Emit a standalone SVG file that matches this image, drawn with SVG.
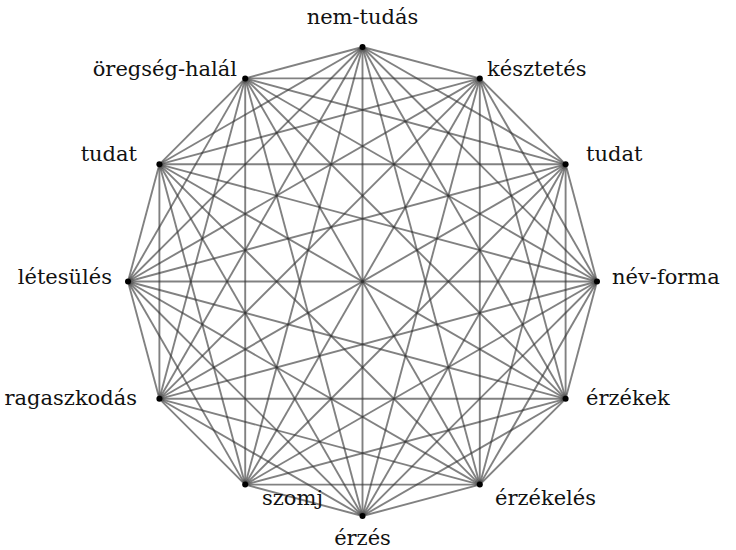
<svg xmlns="http://www.w3.org/2000/svg" width="736" height="550" viewBox="0 0 736 550">
<style>
.e line{stroke:#333;stroke-opacity:0.62;stroke-width:1.9;}
.v{fill:#000;}
.t{font-family:'DejaVu Serif','Liberation Serif',serif;font-size:21px;fill:#111;}
</style>
<rect width="736" height="550" fill="#fff"/>
<g id="connectors" class="e">
<line x1="362.5" y1="47" x2="479.8" y2="78.4"/>
<line x1="362.5" y1="47" x2="565.6" y2="164.3"/>
<line x1="362.5" y1="47" x2="597" y2="281.5"/>
<line x1="362.5" y1="47" x2="565.6" y2="398.8"/>
<line x1="362.5" y1="47" x2="479.8" y2="484.6"/>
<line x1="362.5" y1="47" x2="362.5" y2="516"/>
<line x1="362.5" y1="47" x2="245.2" y2="484.6"/>
<line x1="362.5" y1="47" x2="159.4" y2="398.8"/>
<line x1="362.5" y1="47" x2="128" y2="281.5"/>
<line x1="362.5" y1="47" x2="159.4" y2="164.3"/>
<line x1="362.5" y1="47" x2="245.2" y2="78.4"/>
<line x1="479.8" y1="78.4" x2="565.6" y2="164.3"/>
<line x1="479.8" y1="78.4" x2="597" y2="281.5"/>
<line x1="479.8" y1="78.4" x2="565.6" y2="398.8"/>
<line x1="479.8" y1="78.4" x2="479.8" y2="484.6"/>
<line x1="479.8" y1="78.4" x2="362.5" y2="516"/>
<line x1="479.8" y1="78.4" x2="245.2" y2="484.6"/>
<line x1="479.8" y1="78.4" x2="159.4" y2="398.8"/>
<line x1="479.8" y1="78.4" x2="128" y2="281.5"/>
<line x1="479.8" y1="78.4" x2="159.4" y2="164.3"/>
<line x1="479.8" y1="78.4" x2="245.2" y2="78.4"/>
<line x1="565.6" y1="164.3" x2="597" y2="281.5"/>
<line x1="565.6" y1="164.3" x2="565.6" y2="398.8"/>
<line x1="565.6" y1="164.3" x2="479.8" y2="484.6"/>
<line x1="565.6" y1="164.3" x2="362.5" y2="516"/>
<line x1="565.6" y1="164.3" x2="245.2" y2="484.6"/>
<line x1="565.6" y1="164.3" x2="159.4" y2="398.8"/>
<line x1="565.6" y1="164.3" x2="128" y2="281.5"/>
<line x1="565.6" y1="164.3" x2="159.4" y2="164.3"/>
<line x1="565.6" y1="164.3" x2="245.2" y2="78.4"/>
<line x1="597" y1="281.5" x2="565.6" y2="398.8"/>
<line x1="597" y1="281.5" x2="479.8" y2="484.6"/>
<line x1="597" y1="281.5" x2="362.5" y2="516"/>
<line x1="597" y1="281.5" x2="245.2" y2="484.6"/>
<line x1="597" y1="281.5" x2="159.4" y2="398.8"/>
<line x1="597" y1="281.5" x2="128" y2="281.5"/>
<line x1="597" y1="281.5" x2="159.4" y2="164.3"/>
<line x1="597" y1="281.5" x2="245.2" y2="78.4"/>
<line x1="565.6" y1="398.8" x2="479.8" y2="484.6"/>
<line x1="565.6" y1="398.8" x2="362.5" y2="516"/>
<line x1="565.6" y1="398.8" x2="245.2" y2="484.6"/>
<line x1="565.6" y1="398.8" x2="159.4" y2="398.8"/>
<line x1="565.6" y1="398.8" x2="128" y2="281.5"/>
<line x1="565.6" y1="398.8" x2="159.4" y2="164.3"/>
<line x1="565.6" y1="398.8" x2="245.2" y2="78.4"/>
<line x1="479.8" y1="484.6" x2="362.5" y2="516"/>
<line x1="479.8" y1="484.6" x2="245.2" y2="484.6"/>
<line x1="479.8" y1="484.6" x2="159.4" y2="398.8"/>
<line x1="479.8" y1="484.6" x2="128" y2="281.5"/>
<line x1="479.8" y1="484.6" x2="159.4" y2="164.3"/>
<line x1="479.8" y1="484.6" x2="245.2" y2="78.4"/>
<line x1="362.5" y1="516" x2="245.2" y2="484.6"/>
<line x1="362.5" y1="516" x2="159.4" y2="398.8"/>
<line x1="362.5" y1="516" x2="128" y2="281.5"/>
<line x1="362.5" y1="516" x2="159.4" y2="164.3"/>
<line x1="362.5" y1="516" x2="245.2" y2="78.4"/>
<line x1="245.2" y1="484.6" x2="159.4" y2="398.8"/>
<line x1="245.2" y1="484.6" x2="128" y2="281.5"/>
<line x1="245.2" y1="484.6" x2="159.4" y2="164.3"/>
<line x1="245.2" y1="484.6" x2="245.2" y2="78.4"/>
<line x1="159.4" y1="398.8" x2="128" y2="281.5"/>
<line x1="159.4" y1="398.8" x2="159.4" y2="164.3"/>
<line x1="159.4" y1="398.8" x2="245.2" y2="78.4"/>
<line x1="128" y1="281.5" x2="159.4" y2="164.3"/>
<line x1="128" y1="281.5" x2="245.2" y2="78.4"/>
<line x1="159.4" y1="164.3" x2="245.2" y2="78.4"/>
</g>
<g id="n0"><circle class="v" cx="362.5" cy="47" r="3"/><text class="t" x="362.5" y="24" text-anchor="middle">nem-tudás</text></g>
<g id="n1"><circle class="v" cx="479.8" cy="78.4" r="3"/><text class="t" x="487" y="76">késztetés</text></g>
<g id="n2"><circle class="v" cx="565.6" cy="164.3" r="3"/><text class="t" x="586" y="161">tudat</text></g>
<g id="n3"><circle class="v" cx="597" cy="281.5" r="3"/><text class="t" x="612" y="284">név-forma</text></g>
<g id="n4"><circle class="v" cx="565.6" cy="398.8" r="3"/><text class="t" x="586" y="405">érzékek</text></g>
<g id="n5"><circle class="v" cx="479.8" cy="484.6" r="3"/><text class="t" x="495" y="505">érzékelés</text></g>
<g id="n6"><circle class="v" cx="362.5" cy="516" r="3"/><text class="t" x="362.5" y="545" text-anchor="middle">érzés</text></g>
<g id="n7"><circle class="v" cx="245.2" cy="484.6" r="3"/><text class="t" x="262" y="505">szomj</text></g>
<g id="n8"><circle class="v" cx="159.4" cy="398.8" r="3"/><text class="t" x="137" y="405" text-anchor="end">ragaszkodás</text></g>
<g id="n9"><circle class="v" cx="128" cy="281.5" r="3"/><text class="t" x="112" y="284" text-anchor="end">létesülés</text></g>
<g id="n10"><circle class="v" cx="159.4" cy="164.3" r="3"/><text class="t" x="137" y="161" text-anchor="end">tudat</text></g>
<g id="n11"><circle class="v" cx="245.2" cy="78.4" r="3"/><text class="t" x="237" y="76" text-anchor="end">öregség-halál</text></g>
</svg>
